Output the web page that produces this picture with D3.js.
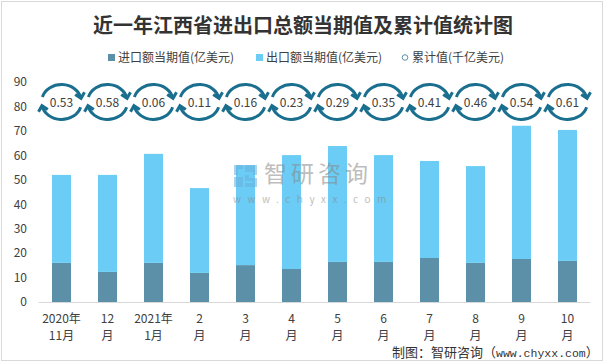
<!DOCTYPE html>
<html><head><meta charset="utf-8">
<script src="https://cdn.jsdelivr.net/npm/d3@7/dist/d3.min.js"></script>
<style>body{margin:0;background:#fff}svg{display:block}text{font-family:"Noto Sans CJK SC","Microsoft YaHei",sans-serif}</style>
</head><body><svg id="c" width="606" height="363"></svg>
<script>
const categories = ["2020年\n11月","12\n月","2021年\n1月","2\n月","3\n月","4\n月","5\n月","6\n月","7\n月","8\n月","9\n月","10\n月"];
const importValues = [16.0, 12.3, 16.0, 11.9, 15.1, 13.5, 16.4, 16.4, 18.0, 16.0, 17.6, 16.8];
const exportValues = [36.0, 39.7, 44.6, 34.7, 40.9, 46.6, 47.4, 43.7, 39.7, 39.6, 54.5, 53.6];
const cumulativeValues = [0.53, 0.58, 0.06, 0.11, 0.16, 0.23, 0.29, 0.35, 0.41, 0.46, 0.54, 0.61];
const yTicks = [0,10,20,30,40,50,60,70,80,90];
const seriesNames = ["进口额当期值(亿美元)","出口额当期值(亿美元)","累计值(千亿美元)"];

const svg = d3.select("#c");
const cImp = "#5b90a8", cExp = "#6bcdf5", cIcon = "#1a6e8e", cText = "#404040";

svg.append("rect").attr("x",1.5).attr("y",1.5).attr("width",601).attr("height",359)
  .attr("fill","#fff").attr("stroke","#d9d9d9").attr("stroke-width",1);

svg.append("text").attr("x",303).attr("y",33).attr("text-anchor","middle")
  .attr("font-size",20).attr("font-weight","bold").attr("fill","#333")
  .text("近一年江西省进出口总额当期值及累计值统计图");

const x = d3.scaleBand().domain(categories).range([38.5,590.5]).paddingInner(27/46).paddingOuter(27/92);
const y = d3.scaleLinear().domain([0,90]).range([302,82]);

// y axis labels
const yAxis = d3.axisLeft(y).tickValues(yTicks).tickSize(0).tickPadding(0);
const yg = svg.append("g").attr("transform","translate(27,0)").call(yAxis);
yg.select(".domain").remove();
yg.selectAll("text").attr("font-size",12).attr("fill",cText).attr("font-family","'Noto Sans CJK SC',sans-serif");

// bars
const g = svg.append("g");
categories.forEach((c,i)=>{
  g.append("rect").attr("x",x(c)).attr("width",x.bandwidth())
    .attr("y",y(importValues[i])).attr("height",y(0)-y(importValues[i])).attr("fill",cImp);
  g.append("rect").attr("x",x(c)).attr("width",x.bandwidth())
    .attr("y",y(importValues[i]+exportValues[i])).attr("height",y(importValues[i])-y(importValues[i]+exportValues[i])).attr("fill",cExp);
});

// x axis
const xAxis = d3.axisBottom(x).tickSize(0).tickFormat("");
const xg = svg.append("g").attr("transform","translate(0,302)").call(xAxis);
xg.select(".domain").attr("stroke","#d9d9d9").attr("d","M38.5,0.5H590.5");
categories.forEach(c=>{
  const lines = c.split("\n");
  const t = svg.append("text").attr("text-anchor","middle").attr("font-size",12).attr("fill",cText);
  lines.forEach((l,j)=>t.append("tspan").attr("x",x(c)+x.bandwidth()/2).attr("y",323+j*17).text(l));
});

// watermark
const wm = svg.append("g").attr("opacity",0.55);
wm.append("path").attr("d","M234,165h9v4h-5v6h-4z M245,165h12v10h-8v3h8v9h-12v-4h8v-2h-8v-6h8v-3h-8z M234,177h9v10h-9z").attr("fill","#6ab0dc");
wm.append("text").attr("x",264).attr("y",182).attr("font-size",23).attr("fill","#888").attr("letter-spacing",4).text("智研咨询");
wm.append("text").attr("x",233).attr("y",203).attr("font-size",10).attr("font-family","'Liberation Sans',sans-serif").attr("fill","#888").attr("letter-spacing",6.5).text("www.chyxx.com");

// cumulative icons
const markerLevel = 81.8;
const rx = 20, ry = 17.5;
function pt(cx,cy,deg,k){const a=deg*Math.PI/180;return [cx+rx*k*Math.cos(a), cy+ry*k*Math.sin(a)];}
function arrow(cx,cy,deg){
  const a=deg*Math.PI/180;
  const tip=pt(cx,cy,deg,1);
  let tx=-rx*Math.sin(a), ty=ry*Math.cos(a); const n=Math.hypot(tx,ty); tx/=n; ty/=n;
  const L=7, s=0.75;
  const b1=[tip[0]-L*(tx*Math.cos(s)-ty*Math.sin(s)), tip[1]-L*(tx*Math.sin(s)+ty*Math.cos(s))];
  const b2=[tip[0]-L*(tx*Math.cos(-s)-ty*Math.sin(-s)), tip[1]-L*(tx*Math.sin(-s)+ty*Math.cos(-s))];
  return `M${b1}L${tip}L${b2}`;
}
const ig = svg.append("g");
categories.forEach((c,i)=>{
  const cx = x(c)+x.bandwidth()/2, cy = y(markerLevel);
  const p1=pt(cx,cy,197,1), p2=pt(cx,cy,348,1), p3=pt(cx,cy,17,1), p4=pt(cx,cy,168,1);
  const d = `M${p1}A${rx},${ry} 0 0 1 ${p2} ${arrow(cx,cy,348)} M${p3}A${rx},${ry} 0 0 1 ${p4} ${arrow(cx,cy,168)}`;
  ig.append("path").attr("d",d).attr("fill","none").attr("stroke",cIcon).attr("stroke-width",3).attr("stroke-linecap","butt").attr("stroke-linejoin","miter");
  ig.append("text").attr("x",cx).attr("y",cy+4.5).attr("text-anchor","middle").attr("font-size",12).attr("fill",cText)
    .text(cumulativeValues[i].toFixed(2));
});

// legend
const lg = svg.append("g");
lg.append("rect").attr("x",108).attr("y",54).attr("width",7).attr("height",7).attr("fill",cImp);
lg.append("text").attr("x",118).attr("y",62).attr("font-size",12).attr("fill",cText).text(seriesNames[0]);
lg.append("rect").attr("x",256).attr("y",54).attr("width",7).attr("height",7).attr("fill",cExp);
lg.append("text").attr("x",266).attr("y",62).attr("font-size",12).attr("fill",cText).text(seriesNames[1]);
lg.append("circle").attr("cx",405).attr("cy",57.5).attr("r",2.8).attr("fill","#fff").attr("stroke","#5b90a8").attr("stroke-width",1);
lg.append("text").attr("x",412).attr("y",62).attr("font-size",12).attr("fill",cText).text(seriesNames[2]);

// source
const st = svg.append("text").attr("x",392).attr("y",357).attr("font-size",13).attr("fill","#333");
st.append("tspan").text("制图：智研咨询（");
st.append("tspan").attr("font-family","'Liberation Mono',monospace").attr("font-size",11.5).text("www.chyxx.com");
st.append("tspan").text("）");
</script></body></html>
